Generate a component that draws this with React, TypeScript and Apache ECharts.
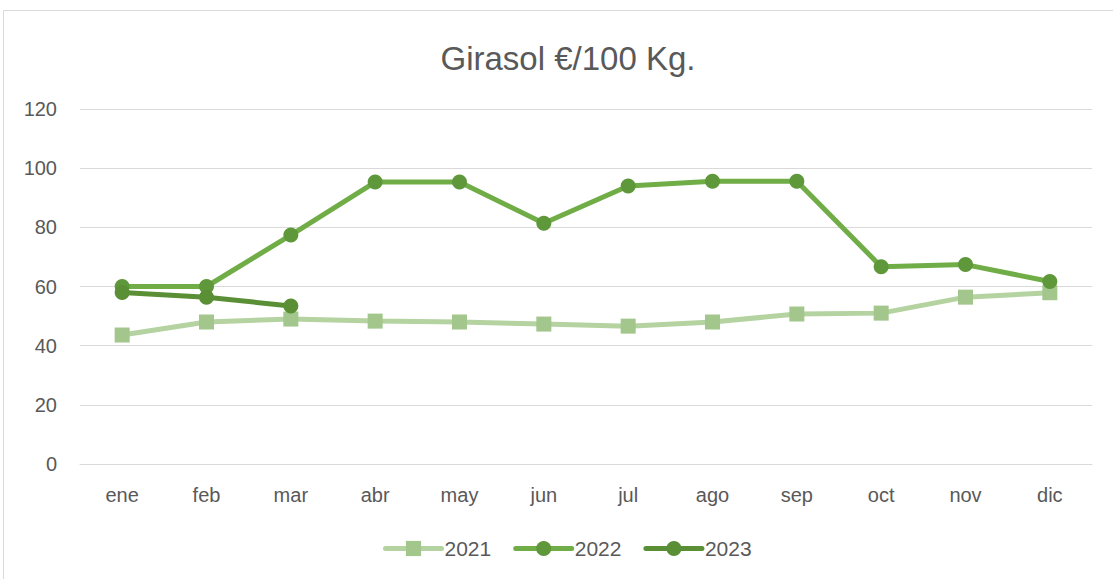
import React, { useEffect, useRef } from "react";
import * as echarts from "echarts";

const months = ["ene", "feb", "mar", "abr", "may", "jun", "jul", "ago", "sep", "oct", "nov", "dic"];
const values2021 = [43.6, 48.0, 49.0, 48.3, 48.0, 47.3, 46.6, 48.0, 50.7, 51.0, 56.4, 57.9];
const values2022 = [60.0, 60.0, 77.4, 95.3, 95.3, 81.4, 94.0, 95.6, 95.6, 66.7, 67.4, 61.7];
const values2023 = [58.0, 56.4, 53.4];
const yTicks = { min: 0, max: 120, interval: 20 };
const titleText = "Girasol €/100 Kg.";

const FONT = "'Liberation Sans', Arial, sans-serif";
const TEXT = "#595959";

export default function App() {
  const ref = useRef<HTMLDivElement>(null);
  useEffect(() => {
    if (!ref.current) return;
    const chart = echarts.init(ref.current, undefined, { renderer: "svg" });
    chart.setOption({
      animation: false,
      backgroundColor: "#ffffff",
      title: {
        text: titleText,
        left: 563,
        textAlign: "center",
        top: 37,
        textStyle: { fontFamily: FONT, fontSize: 33, fontWeight: "normal", color: TEXT },
      },
      graphic: [
        {
          type: "rect",
          shape: { x: 3.5, y: 10.5, width: 1300, height: 700 },
          style: { fill: "none", stroke: "#d9d9d9", lineWidth: 1 },
          silent: true,
          z: -1,
        },
      ],
      legend: {
        left: 378,
        top: 533,
        itemWidth: 56,
        itemHeight: 19,
        itemGap: 22,
        lineStyle: { width: 5, cap: "round" },
        textStyle: { fontFamily: FONT, fontSize: 21, color: TEXT, padding: [0, 0, 0, -2] },
        data: ["2021", "2022", "2023"],
      },
      grid: { left: 80, right: 21, top: 109, bottom: 115, containLabel: false },
      xAxis: {
        type: "category",
        data: months,
        boundaryGap: true,
        axisLine: { lineStyle: { color: "#d9d9d9", width: 1 } },
        axisTick: { show: false },
        axisLabel: { margin: 21, fontFamily: FONT, fontSize: 20, color: TEXT },
      },
      yAxis: {
        type: "value",
        min: yTicks.min,
        max: yTicks.max,
        interval: yTicks.interval,
        axisLine: { show: false },
        axisTick: { show: false },
        axisLabel: { margin: 23, fontFamily: FONT, fontSize: 20, color: TEXT },
        splitLine: { lineStyle: { color: "#d9d9d9", width: 1 } },
      },
      series: [
        {
          name: "2021",
          type: "line",
          data: values2021,
          symbol: "rect",
          symbolSize: 15,
          lineStyle: { color: "#B4D3A0", width: 5, cap: "round" },
          itemStyle: { color: "#A2C68B" },
        },
        {
          name: "2022",
          type: "line",
          data: values2022,
          symbol: "circle",
          symbolSize: 15,
          lineStyle: { color: "#70AD47", width: 5, cap: "round" },
          itemStyle: { color: "#5F983A" },
        },
        {
          name: "2023",
          type: "line",
          data: values2023,
          symbol: "circle",
          symbolSize: 15,
          lineStyle: { color: "#5A8F35", width: 5, cap: "round" },
          itemStyle: { color: "#5A8F35" },
        },
      ],
    });
    return () => chart.dispose();
  }, []);
  return (
    <div
      ref={ref}
      style={{ position: "absolute", left: 0, top: 0, width: 1113, height: 579 }}
    />
  );
}
